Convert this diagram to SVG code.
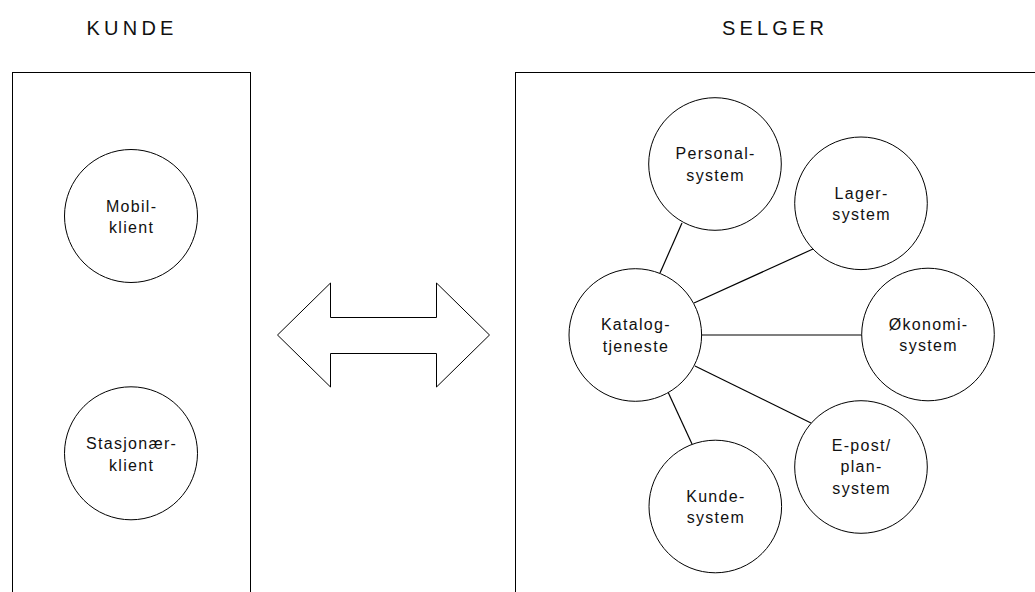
<svg xmlns="http://www.w3.org/2000/svg" width="1035" height="592" viewBox="0 0 1035 592">
  <style>
    .frame { fill: none; stroke: #000; stroke-width: 1; }
    .node circle { fill: #fff; stroke: #000; stroke-width: 1; }
    .link { stroke: #000; stroke-width: 1.2; fill: none; }
    .title { font-family: "Liberation Sans", Arial, sans-serif; font-size: 20px; letter-spacing: 4.2px; fill: #111; text-anchor: middle; }
    .label { font-family: "Liberation Sans", Arial, sans-serif; font-size: 16px; letter-spacing: 1.3px; fill: #111; text-anchor: middle; }
  </style>
  <rect width="1035" height="592" fill="#fff"/>

  <!-- Party titles -->
  <text class="title" x="132.1" y="34.5">KUNDE</text>
  <text class="title" x="775.1" y="35">SELGER</text>

  <!-- Party frames (run past the lower and right edges) -->
  <rect id="kunde-frame" class="frame" x="12.5" y="72.5" width="238" height="560"/>
  <rect id="selger-frame" class="frame" x="515.5" y="72.5" width="560" height="560"/>

  <!-- Two-way exchange arrow -->
  <polygon id="exchange-arrow" points="277.5,335 330.5,283 330.5,317.5 436.5,317.5 436.5,283 489.5,335 436.5,387 436.5,353.5 330.5,353.5 330.5,387" fill="#fff" stroke="#000" stroke-width="1"/>

  <!-- Connectors -->
  <g id="connectors">
    <line class="link" x1="660" y1="273" x2="682" y2="223"/>
    <line class="link" x1="694" y1="303" x2="813" y2="249"/>
    <line class="link" x1="702" y1="335" x2="862" y2="335"/>
    <line class="link" x1="695" y1="366" x2="811" y2="423"/>
    <line class="link" x1="668" y1="392" x2="692" y2="444"/>
  </g>

  <!-- Client nodes -->
  <g id="mobilklient" class="node">
    <circle cx="131" cy="216" r="66.5"/>
    <text class="label" x="131.6" y="211.7">Mobil-</text>
    <text class="label" x="131.6" y="232.7">klient</text>
  </g>
  <g id="stasjonaerklient" class="node">
    <circle cx="131" cy="453.3" r="66.5"/>
    <text class="label" x="131.6" y="448.5">Stasjonær-</text>
    <text class="label" x="131.6" y="470.5">klient</text>
  </g>

  <!-- Vendor nodes -->
  <g id="katalogtjeneste" class="node">
    <circle cx="635.3" cy="335" r="66.3"/>
    <text class="label" x="635.9" y="330">Katalog-</text>
    <text class="label" x="635.9" y="351.7">tjeneste</text>
  </g>
  <g id="personalsystem" class="node">
    <circle cx="715" cy="164" r="66.3"/>
    <text class="label" x="715.6" y="159">Personal-</text>
    <text class="label" x="715.6" y="180.5">system</text>
  </g>
  <g id="lagersystem" class="node">
    <circle cx="861" cy="203.3" r="66.3"/>
    <text class="label" x="861.6" y="198.5">Lager-</text>
    <text class="label" x="861.6" y="220">system</text>
  </g>
  <g id="okonomisystem" class="node">
    <circle cx="928" cy="334.5" r="66.3"/>
    <text class="label" x="928.6" y="329.5">Økonomi-</text>
    <text class="label" x="928.6" y="351">system</text>
  </g>
  <g id="epost-plansystem" class="node">
    <circle cx="861" cy="467" r="66.3"/>
    <text class="label" x="861.6" y="450.5">E-post/</text>
    <text class="label" x="861.6" y="472">plan-</text>
    <text class="label" x="861.6" y="493.5">system</text>
  </g>
  <g id="kundesystem" class="node">
    <circle cx="715.3" cy="506.5" r="66.3"/>
    <text class="label" x="715.9" y="501.5">Kunde-</text>
    <text class="label" x="715.9" y="523">system</text>
  </g>
</svg>
